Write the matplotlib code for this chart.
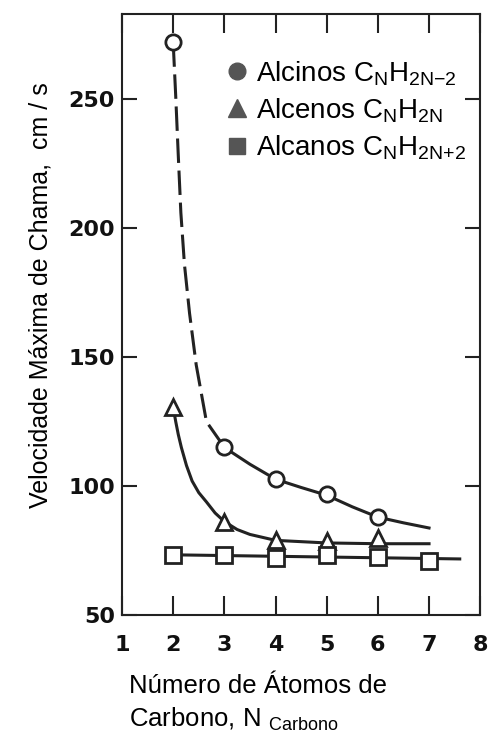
import matplotlib
matplotlib.use("Agg")
import matplotlib.pyplot as plt
from matplotlib.lines import Line2D

plt.rcParams['font.family'] = ['Liberation Sans', 'DejaVu Sans']

# measured points
n_alcinos = [2, 3, 4, 5, 6]
v_alcinos = [272, 115, 102.7, 96.8, 88.1]
n_alcenos = [2, 3, 4, 5, 6]
v_alcenos = [130.6, 86.3, 79.1, 78.7, 79.9]
n_alcanos = [2, 3, 4, 5, 6, 7]
v_alcanos = [73.4, 73.4, 72.3, 73.4, 72.7, 70.9]

# guide curves as drawn in the figure
alcinos_dash_x = [2.0, 2.05, 2.1, 2.15, 2.22, 2.32, 2.45, 2.65, 2.95]
alcinos_dash_y = [272, 251, 228, 206, 186, 167, 147, 125, 116.5]
alcinos_fit_x = [3, 3.5, 4, 4.5, 5, 5.5, 6, 6.5, 7]
alcinos_fit_y = [115, 108.5, 102.7, 99.5, 96.5, 92, 88, 85.8, 83.8]
alcenos_fit_x = [2, 2.05, 2.1, 2.16, 2.26, 2.37, 2.5, 2.65, 2.82, 3, 3.25, 3.5, 4, 5, 6, 7]
alcenos_fit_y = [130.6, 125, 120, 115, 108, 102, 97.5, 93.9, 89.6, 86.3, 83.2, 81.3, 79, 78, 77.7, 77.7]
alcanos_fit_x = [2, 7.6]
alcanos_fit_y = [73.4, 71.8]

xticks = [1, 2, 3, 4, 5, 6, 7, 8]
yticks = [50, 100, 150, 200, 250]

legend_labels = [r'Alcinos C$_\mathregular{N}$H$_\mathregular{2N{-}2}$',
                 r'Alcenos C$_\mathregular{N}$H$_\mathregular{2N}$',
                 r'Alcanos C$_\mathregular{N}$H$_\mathregular{2N{+}2}$']

fig = plt.figure(figsize=(4.9, 7.35), dpi=100)
ax = fig.add_axes([0.249, 0.163, 0.731, 0.818])

lc = '#222222'
ax.plot(alcinos_dash_x, alcinos_dash_y, color=lc, lw=2.2, ls=(0, (8, 2.5)))
ax.plot(alcinos_fit_x, alcinos_fit_y, color=lc, lw=2.2)
ax.plot(alcenos_fit_x, alcenos_fit_y, color=lc, lw=2.2)
ax.plot(alcanos_fit_x, alcanos_fit_y, color=lc, lw=2.2)

ax.plot(n_alcinos, v_alcinos, 'o', ms=11, mfc='white', mec=lc, mew=2, ls='none')
ax.plot(n_alcenos, v_alcenos, '^', ms=12, mfc='white', mec=lc, mew=2, ls='none')
ax.plot(n_alcanos, v_alcanos, 's', ms=11, mfc='white', mec=lc, mew=2, ls='none')

ax.set_xlim(1, 8)
ax.set_ylim(50, 283)
ax.set_xticks(xticks)
ax.set_yticks(yticks)
ax.tick_params(axis='both', direction='in', width=1.5, colors=lc,
               labelsize=16, labelcolor='#111111')
ax.tick_params(axis='x', length=14, pad=14, top=True)
ax.tick_params(axis='y', length=11, pad=5, right=True)
for lab in ax.get_xticklabels() + ax.get_yticklabels():
    lab.set_family('DejaVu Sans')
    lab.set_fontweight('bold')
for sp in ax.spines.values():
    sp.set_linewidth(1.5)
    sp.set_color(lc)

handles = [Line2D([], [], marker=m, ls='none', ms=ms, color='#555555')
           for m, ms in [('o', 12), ('^', 13), ('s', 12)]]
ax.legend(handles, legend_labels, loc='upper left', bbox_to_anchor=(0.29, 0.925),
          frameon=False, fontsize=20, handlelength=0.8, handletextpad=0.3,
          labelspacing=0.3, borderpad=0, borderaxespad=0)

fig.text(0.082, 0.599, 'Velocidade Máxima de Chama,  cm / s', rotation=90,
         ha='center', va='center', fontsize=18)
fig.text(0.263, 0.066, 'Número de Átomos de', ha='left', va='center', fontsize=18.5)
fig.text(0.263, 0.021, r'Carbono, N $_\mathregular{Carbono}$', ha='left',
         va='center', fontsize=18.5)

fig.savefig('out.png', dpi=100)
